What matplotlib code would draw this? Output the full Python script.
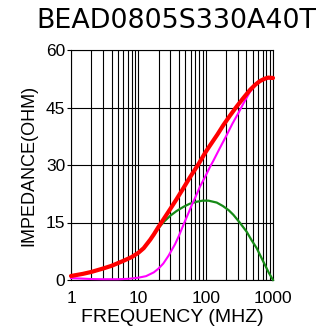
import matplotlib.pyplot as plt
from matplotlib.ticker import FixedLocator, NullFormatter

# Impedance curves (frequency in MHz, value in ohm)
freq_z = [1, 1.5, 2, 3, 4, 6, 8, 10, 12, 15, 17, 20, 24, 30, 37, 45, 58, 78, 100, 116,
          150, 183, 230, 290, 360, 456, 550, 640, 750, 850, 1000]
z_total = [1.05, 1.6, 2.1, 3.0, 3.7, 5.0, 6.0, 7.1, 8.3, 10.5, 11.9, 13.9, 16.0, 18.6, 21.1, 23.5,
           26.7, 30.2, 33.4, 35.1, 38.0, 40.4, 42.9, 45.3, 47.4, 49.6, 51.0, 51.9, 52.5, 52.8, 52.7]

freq_x = [1, 1.5, 2, 3, 5, 7, 10, 13, 17, 20, 23.5, 28, 35, 40, 47, 55, 62, 70, 82, 100, 116,
          130, 160, 205, 250, 305, 370, 456, 573, 700, 850, 1000]
x_react = [0.5, 0.35, 0.25, 0.2, 0.2, 0.3, 0.6, 1.0, 2.0, 3.0, 4.3, 6.3, 9.3, 11.5, 14.5, 17.3,
           19.5, 21.5, 24.3, 27.2, 29.5, 31.1, 34.2, 37.8, 40.8, 43.5, 46.3, 49.1, 51.3, 52.2, 52.6, 52.6]

freq_r = [1, 1.5, 2, 3, 4, 6, 8, 10, 12, 15, 17, 20, 24, 30, 37, 47, 58, 73, 90, 110,
          146, 180, 220, 258, 320, 406, 480, 573, 660, 761, 860, 1000]
r_resist = [1.0, 1.55, 2.05, 2.95, 3.65, 4.95, 5.95, 7.0, 8.2, 10.4, 11.8, 13.6, 15.2, 16.8, 18.0,
            19.1, 19.9, 20.4, 20.7, 20.7, 20.2, 19.3, 18.2, 17.0, 15.0, 12.6, 10.4, 8.3, 6.1, 3.9, 2.0, 0.0]

y_ticks = [0, 15, 30, 45, 60]
x_ticks = [1, 10, 100, 1000]
x_ticklabels = ['1', '10', '100', '1000']

fig = plt.figure(figsize=(3.23, 3.32), dpi=100)
ax = fig.add_axes([71 / 323, 52 / 332, 202 / 323, 230 / 332])

lab_font = 'Liberation Sans'

ax.plot(freq_r, r_resist, color='#168a16', lw=1.6, clip_on=False, zorder=3)
ax.plot(freq_x, x_react, color='#ff00ff', lw=1.5, clip_on=False, zorder=4)
ax.plot(freq_z, z_total, color='#ff0000', lw=3.0, clip_on=False, zorder=5,
        solid_capstyle='round', solid_joinstyle='round')

ax.set_xscale('log')
ax.set_xlim(1, 1000)
ax.set_ylim(0, 60)

ax.xaxis.set_major_locator(FixedLocator(x_ticks))
ax.set_xticklabels(x_ticklabels, fontfamily=lab_font, fontsize=12.5)
minor = [m * 10 ** d for d in range(3) for m in range(2, 10)]
ax.xaxis.set_minor_locator(FixedLocator(minor))
ax.xaxis.set_minor_formatter(NullFormatter())
ax.set_yticks(y_ticks)
ax.set_yticklabels([str(v) for v in y_ticks], fontfamily=lab_font, fontsize=12.5)

ax.grid(True, which='both', color='black', lw=0.8)
ax.tick_params(axis='x', which='both', length=0, pad=8)
ax.tick_params(axis='y', length=3, width=0.8, pad=1)
for s in ax.spines.values():
    s.set_color('black')
    s.set_linewidth(0.8)

ax.set_xlabel('FREQUENCY (MHZ)', fontfamily=lab_font, fontsize=14, labelpad=2)
ax.set_ylabel('IMPEDANCE(OHM)', fontfamily=lab_font, fontsize=13, labelpad=6)

fig.text(36 / 323, 1 - 27.5 / 332, 'BEAD0805S330A40T', fontsize=19.4, va='baseline', ha='left',
         fontfamily='DejaVu Sans')

fig.savefig('out.png', dpi=100)
